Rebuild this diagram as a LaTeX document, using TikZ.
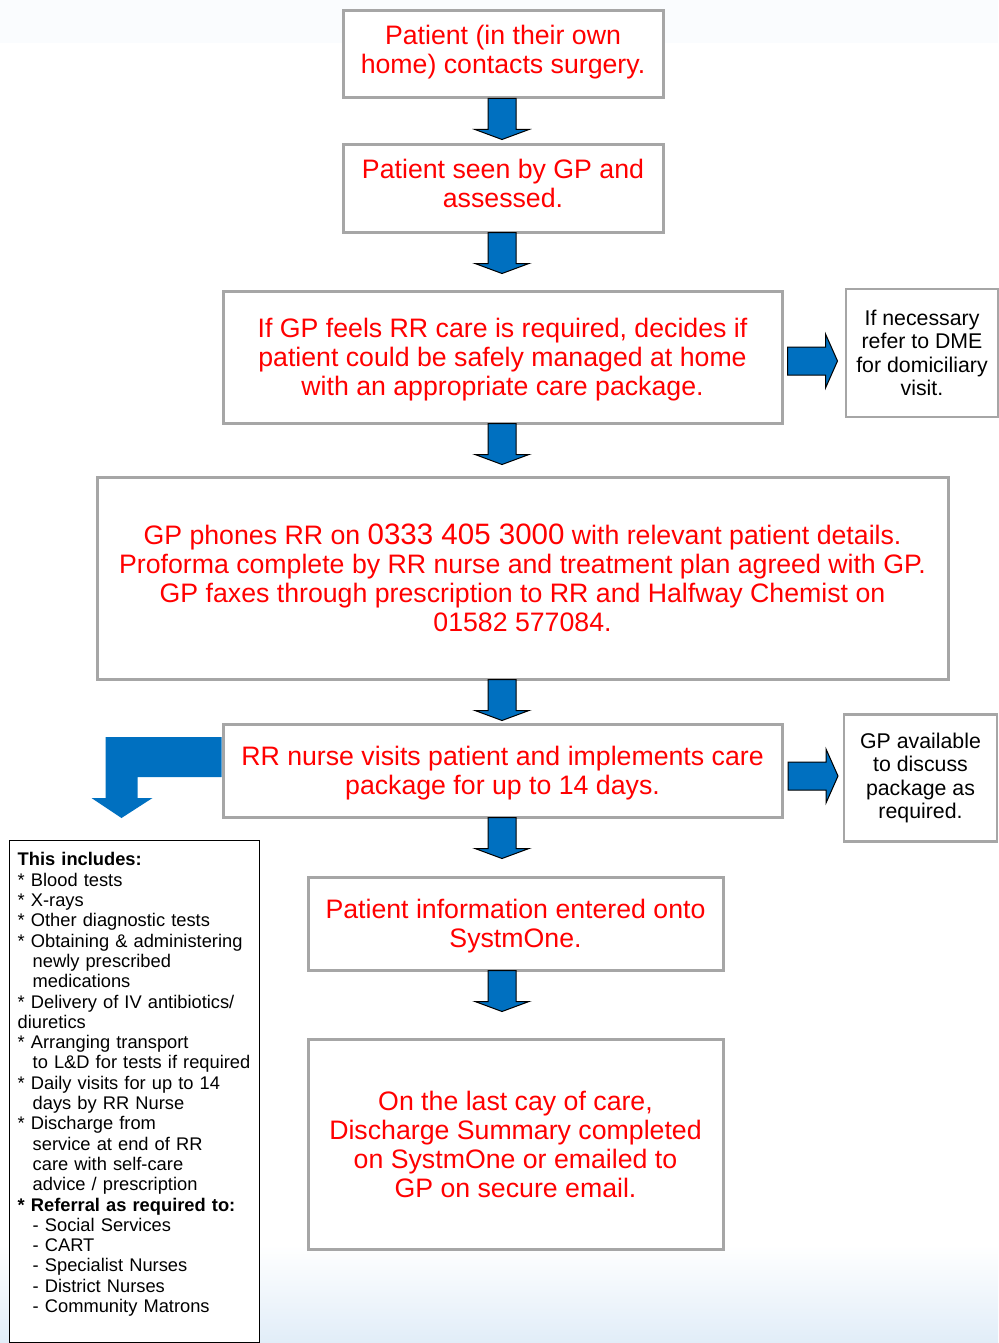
\documentclass[tikz,border=0pt]{standalone}
\usepackage{fontspec}
\setmainfont{Liberation Sans}
\usepackage{xcolor}
\usetikzlibrary{arrows.meta,positioning,calc}
\definecolor{rrred}{HTML}{FF0000}
\definecolor{rrgray}{HTML}{A6A6A6}
\definecolor{rrblue}{HTML}{0070C0}
\definecolor{bgtop}{HTML}{FAFCFE}
\definecolor{bgbot}{HTML}{E1EDF8}
\newcommand{\bignum}[1]{{\fontsize{29.5}{29}\selectfont #1}}

\begin{document}
\begin{tikzpicture}[x=1pt,y=-1pt,>=Latex,
  flowbox/.style={draw=rrgray,line width=3pt,fill=white,text=rrred,align=center,inner sep=0pt,
    font=\fontsize{26.7}{29}\selectfont},
  sidebox/.style={draw=rrgray,line width=2.5pt,fill=white,align=center,inner sep=0pt,
    font=\fontsize{21.3}{23.5}\selectfont},
  listbox/.style={draw=black,line width=1pt,fill=white,inner sep=0pt},
  listtext/.style={align=left,inner sep=0pt,text width=240pt,font=\fontsize{18.3}{20.3}\selectfont},
  blockfill/.style={fill=rrblue,draw=black,line width=1pt,line join=miter},
  pics/downarr/.style={code={
    \draw[blockfill] (-14,0)--(14,0)--(14,31)--(27,31)--(0,41)--(-27,31)--(-14,31)--cycle;}},
  pics/rightarr/.style={code={
    \draw[blockfill] (0,-14)--(38,-14)--(38,-27)--(50,0)--(38,27)--(38,14)--(0,14)--cycle;}}]
  \useasboundingbox (0,0) rectangle (998,1343);
  \fill[white] (0,0) rectangle (998,1343);
  \fill[bgtop] (0,0) rectangle (998,43);
  \shade[top color=white,bottom color=bgbot] (0,1245) rectangle (998,1343);

  \node[flowbox,minimum width=320pt,minimum height=87pt,text depth=11pt] (call) at (503,54.5)
    {Patient (in their own\\home) contacts surgery.};
  \node[flowbox,minimum width=320pt,minimum height=87pt,text depth=11pt] (seen) at (503,188.5)
    {Patient seen by GP and\\assessed.};
  \node[flowbox,minimum width=559pt,minimum height=132pt,text depth=0pt] (choice) at (502.5,357)
    {If GP feels RR care is required, decides if\\patient could be safely managed at home\\with an appropriate care package.};
  \node[flowbox,minimum width=851pt,minimum height=202pt] (phone) at (522.5,578)
    {GP phones RR on \bignum{0333 405 3000} with relevant patient details.\\
     Proforma complete by RR nurse and treatment plan agreed with GP.\\
     GP faxes through prescription to RR and Halfway Chemist on\\
     01582 577084.};
  \node[flowbox,minimum width=559pt,minimum height=93pt,text depth=0pt] (visit) at (502.5,770.5)
    {RR nurse visits patient and implements care\\package for up to 14 days.};
  \node[flowbox,minimum width=415pt,minimum height=93pt,text depth=0pt] (entry) at (515.5,923.5)
    {Patient information entered onto\\SystmOne.};
  \node[flowbox,minimum width=415pt,minimum height=210pt] (dischg) at (515.5,1144)
    {On the last cay of care,\\Discharge Summary completed\\on SystmOne or emailed to\\GP on secure email.};

  \node[sidebox,minimum width=152pt,minimum height=128pt] (dme) at (922,353)
    {If necessary\\refer to DME\\for domiciliary\\visit.};
  \node[sidebox,minimum width=153pt,minimum height=127pt] (gpav) at (920.5,778)
    {GP available\\to discuss\\package as\\required.};

  \node[listbox,minimum width=250pt,minimum height=502pt] (incl) at (134,1091) {};
  \node[listtext,anchor=north west] (incltxt) at ($(incl.north west)+(9,13)$)
    {\textbf{This includes:}\\
     {*} Blood tests\\
     {*} X-rays\\
     {*} Other diagnostic tests\\
     {*} Obtaining \& administering\\
     \hspace*{15pt}newly prescribed\\
     \hspace*{15pt}medications\\
     {*} Delivery of IV antibiotics/\\
     diuretics\\
     {*} Arranging transport\\
     \hspace*{15pt}to L\&D for tests if required\\
     {*} Daily visits for up to 14\\
     \hspace*{15pt}days by RR Nurse\\
     {*} Discharge from\\
     \hspace*{15pt}service at end of RR\\
     \hspace*{15pt}care with self-care\\
     \hspace*{15pt}advice / prescription\\
     \textbf{{*} Referral as required to:}\\
     \hspace*{15pt}- Social Services\\
     \hspace*{15pt}- CART\\
     \hspace*{15pt}- Specialist Nurses\\
     \hspace*{15pt}- District Nurses\\
     \hspace*{15pt}- Community Matrons};

  \coordinate (spine) at (502,0);
  \foreach \a in {call,seen,choice,phone,visit,entry}
    \pic at ($(spine |- \a.south)+(0,-1)$) {downarr};
  \pic at ($(choice.east)+(4,4)$) {rightarr};
  \pic at ($(visit.east)+(4.5,5.5)$) {rightarr};
  \fill[rrblue] ($(visit.west)+(0,-33.5)$) -- ++(-116,0) -- ++(0,61) -- ++(-14,0)
    -- ++(30,20) -- ++(31,-20) -- ++(-15,0) -- ++(0,-21) -- ++(84,0) -- cycle;
\end{tikzpicture}
\end{document}
